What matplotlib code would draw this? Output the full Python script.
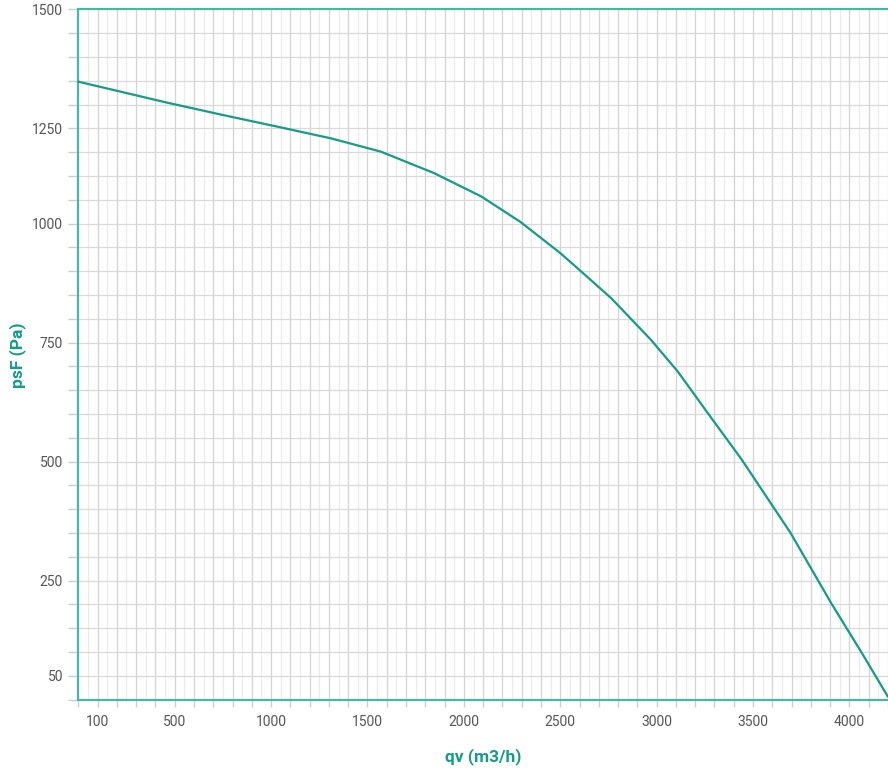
import numpy as np
import matplotlib
matplotlib.use('Agg')
import matplotlib.pyplot as plt
from matplotlib.ticker import MultipleLocator, FixedLocator, FuncFormatter

# fan curve (y in axis units: gridline every 50)
qv = [0, 460, 750, 1050, 1310, 1570, 1845, 2090, 2295, 2500, 2590, 2765,
      2970, 3110, 3265, 3440, 3695, 3905, 4060, 4200]
psf = [1298, 1254, 1228, 1202, 1179, 1151, 1106, 1057, 1003, 938, 906, 843,
       756, 689, 602, 505, 350, 203, 101, 6]

xtick_shown = [100, 500, 1000, 1500, 2000, 2500, 3000, 3500, 4000]
# the source chart puts its y labels at these gridlines
ytick_pos = [50, 250, 500, 750, 1000, 1200, 1450]
ytick_text = ['50', '250', '500', '750', '1000', '1250', '1500']

teal = '#149c88'
spine_teal = '#3dbba5'
grey_txt = '#555555'

plt.rcParams['font.family'] = ['Roboto', 'DejaVu Sans']

fig = plt.figure(figsize=(8.88, 7.71), dpi=100)
ax = fig.add_axes([78.3/888, 1-699.7/771, 1-78.3/888, (699.7-9.3)/771])

ax.plot(qv, psf, color=teal, lw=1.6, zorder=3, clip_on=False,
        solid_joinstyle='round', solid_capstyle='round')

ax.set_xlim(0, 4200)
ax.set_ylim(0, 1450)

# x: marks every 100, labels only on some, grid every 50
ax.xaxis.set_major_locator(MultipleLocator(100))
ax.xaxis.set_minor_locator(MultipleLocator(50))
ax.xaxis.set_major_formatter(FuncFormatter(
    lambda v, p: str(int(round(v))) if int(round(v)) in xtick_shown else ''))

# y: marks and grid every 50
ax.yaxis.set_major_locator(FixedLocator(np.arange(0, 1451, 50)))
lab = dict(zip(ytick_pos, ytick_text))
ax.yaxis.set_major_formatter(FuncFormatter(lambda v, p: lab.get(int(round(v)), '')))

ax.grid(which='major', axis='x', color='#d4d4d4', lw=0.9)
ax.grid(which='minor', axis='x', color='#ebebeb', lw=0.9)
ax.grid(which='major', axis='y', color='#d9d9d9', lw=0.9)
ax.set_axisbelow(True)

ax.tick_params(axis='x', which='major', length=5, width=1, color='#cccccc',
               labelsize=10, labelcolor=grey_txt, pad=6)
ax.tick_params(axis='x', which='minor', length=0)
ax.tick_params(axis='y', which='major', length=7, width=1, color='#cccccc',
               labelsize=10, labelcolor=grey_txt, pad=4)

for s in ['left', 'bottom', 'top']:
    ax.spines[s].set_color(spine_teal)
    ax.spines[s].set_linewidth(1.5)
ax.spines['right'].set_visible(False)

fig.text(483/888, 1-757/771, 'qv (m3/h)', color=teal, fontsize=12.5,
         fontweight='bold', ha='center', va='center')
fig.text(18/888, 1-355/771, 'psF (Pa)', color=teal, fontsize=12.5,
         fontweight='bold', ha='center', va='center', rotation=90)

plt.savefig('out.png', dpi=100)
